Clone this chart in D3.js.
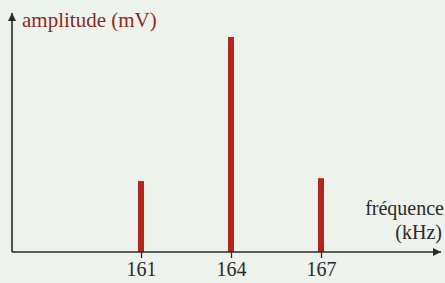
<!DOCTYPE html>
<html><head><meta charset="utf-8">
<script src="https://cdn.jsdelivr.net/npm/d3@7"></script>
<style>
html,body{margin:0;padding:0;background:#edf2ec;}
svg{display:block;}
</style></head>
<body>
<script>
const frequencies = [161, 164, 167];
const amplitudes = [0.99, 3.0, 1.03];
const tickLabels = ["161", "164", "167"];

const W = 445, H = 283;
const svg = d3.select("body").append("svg").attr("width", W).attr("height", H);

const x0 = 12, y0 = 252;
const x = d3.scaleLinear().domain([161, 167]).range([141, 321]);
const y = d3.scaleLinear().domain([0, 3]).range([y0, 37]);

const defs = svg.append("defs");
defs.append("marker").attr("id","arr").attr("viewBox","0 0 10 10")
  .attr("refX",10).attr("refY",5).attr("markerWidth",12).attr("markerHeight",8)
  .attr("markerUnits","userSpaceOnUse").attr("orient","auto")
  .append("path").attr("d","M0,0 L10,5 L0,10 Z").attr("fill","#2a2a2a");

// bars
svg.selectAll("rect.bar").data(frequencies).enter().append("rect")
  .attr("class","bar")
  .attr("x", d => x(d) - 3)
  .attr("width", 6)
  .attr("y", (d,i) => y(amplitudes[i]))
  .attr("height", (d,i) => y(0) - y(amplitudes[i]))
  .attr("fill", "#b3261e");

// x axis ticks
const ax = d3.axisBottom(x).tickValues(frequencies).tickSize(6)
  .tickFormat((d,i) => tickLabels[i]).tickPadding(4);
const g = svg.append("g").attr("transform", `translate(0,${y0})`).call(ax);
g.select(".domain").remove();
g.selectAll(".tick line").attr("stroke","#2a2a2a").attr("stroke-width",1.3);
g.selectAll(".tick text").attr("font-family","'Liberation Serif', serif")
  .attr("font-size",20).attr("fill","#2a2a2a");

// axis lines
svg.append("line").attr("x1",x0).attr("y1",y0).attr("x2",441).attr("y2",y0)
  .attr("stroke","#2a2a2a").attr("stroke-width",1.6).attr("marker-end","url(#arr)");
svg.append("line").attr("x1",x0).attr("y1",y0).attr("x2",x0).attr("y2",13)
  .attr("stroke","#2a2a2a").attr("stroke-width",1.6).attr("marker-end","url(#arr)");

// labels
svg.append("text").attr("x",22).attr("y",27)
  .attr("font-family","'Liberation Serif', serif").attr("font-size",21)
  .attr("fill","#8e2a1c").text("amplitude (mV)");
svg.append("text").attr("x",444).attr("y",215).attr("text-anchor","end")
  .attr("font-family","'Liberation Serif', serif").attr("font-size",20)
  .attr("fill","#2a2a2a").text("fréquence");
svg.append("text").attr("x",442).attr("y",239).attr("text-anchor","end")
  .attr("font-family","'Liberation Serif', serif").attr("font-size",20)
  .attr("fill","#2a2a2a").text("(kHz)");
</script>
</body></html>
